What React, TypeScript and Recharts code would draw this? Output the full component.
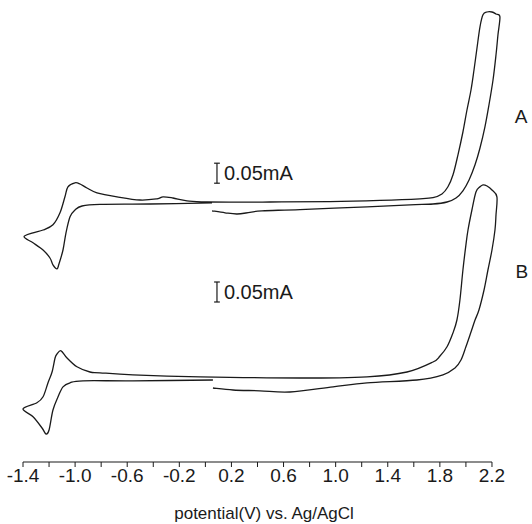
import React from 'react';
import { LineChart, Line, XAxis, YAxis, ReferenceLine, ReferenceDot } from 'recharts';

// Potential (V vs. Ag/AgCl) and current (µA, offset)
const A_POTENTIAL = [0.051,0.151,0.243,0.342,0.435,0.726,1.241,1.571,1.747,1.855,1.924,1.977,2.024,2.070,2.108,2.146,2.177,2.208,2.231,2.246,2.261,2.231,2.200,2.162,2.131,2.108,2.085,2.062,2.039,2.008,1.977,1.939,1.901,1.862,1.816,1.747,1.647,1.340,0.957,0.496,0.012,-0.141,-0.249,-0.325,-0.371,-0.502,-0.678,-0.832,-0.909,-0.962,-1.001,-1.055,-1.078,-1.116,-1.170,-1.246,-1.323,-1.392,-1.323,-1.246,-1.193,-1.170,-1.139,-1.124,-1.093,-1.070,-1.039,-1.001,-0.947,-0.809,-0.425,0.051];
const A_CURRENT = [628,623,620,624,628,631,638,643,645,650,660,678,705,743,785,838,893,955,1018,1068,1113,1120,1125,1125,1118,1088,1035,980,930,880,825,768,718,688,670,661,658,654,651,650,650,653,660,663,658,655,663,673,685,695,698,688,663,623,593,580,573,563,548,530,510,493,483,495,530,573,613,630,640,644,645,648];

const B_POTENTIAL = [0.058,0.212,0.419,0.649,0.980,1.241,1.624,1.824,1.916,1.962,2.000,2.039,2.070,2.100,2.139,2.169,2.200,2.223,2.231,2.238,2.200,2.162,2.131,2.108,2.077,2.046,2.016,2.000,1.977,1.954,1.931,1.901,1.855,1.801,1.747,1.548,1.241,0.726,-0.041,-0.556,-0.809,-0.886,-0.986,-1.062,-1.108,-1.139,-1.154,-1.177,-1.208,-1.246,-1.293,-1.400,-1.323,-1.254,-1.223,-1.200,-1.170,-1.131,-1.093,-1.039,-0.939,-0.556,0.058];
const B_CURRENT = [185,180,178,175,188,198,205,218,235,255,288,325,355,380,430,480,530,580,618,663,680,690,693,688,675,630,580,543,480,405,355,323,288,265,250,225,213,210,213,218,223,225,238,260,278,270,260,225,198,163,148,133,113,85,70,80,130,163,188,198,203,203,205];

const TICKS = [-1.4,-1.2,-1.0,-0.8,-0.6,-0.4,-0.2,0,0.2,0.4,0.6,0.8,1.0,1.2,1.4,1.6,1.8,2.0,2.2];
const TICK_LABELS = ['-1.4','','-1.0','','-0.6','','-0.2','','0.2','','0.6','','1.0','','1.4','','1.8','','2.2'];

const SCALE_BAR_UA = 50; // 0.05 mA
const SCALE_BAR_X = 0.089;
const SCALE_BAR_A_BASE = 697;
const SCALE_BAR_B_BASE = 400;

const zip = (v: number[], i: number[]) => v.map((x, k) => ({ v: x, i: i[k] }));
const dataA = zip(A_POTENTIAL, A_CURRENT);
const dataB = zip(B_POTENTIAL, B_CURRENT);

const INK = '#1a1a1a';
const CAP = 0.022;

// Catmull-Rom style smooth curve through all points (works for loops)
function smoothCurve(context: any) {
  let pts: number[][] = [];
  return {
    areaStart() {},
    areaEnd() {},
    lineStart() { pts = []; },
    point(x: number, y: number) { pts.push([x, y]); },
    lineEnd() {
      if (!pts.length) return;
      context.moveTo(pts[0][0], pts[0][1]);
      const t = 1 / 6;
      for (let k = 0; k < pts.length - 1; k++) {
        const p0 = pts[k - 1] || pts[k];
        const p1 = pts[k];
        const p2 = pts[k + 1];
        const p3 = pts[k + 2] || p2;
        context.bezierCurveTo(
          p1[0] + (p2[0] - p0[0]) * t, p1[1] + (p2[1] - p0[1]) * t,
          p2[0] - (p3[0] - p1[0]) * t, p2[1] - (p3[1] - p1[1]) * t,
          p2[0], p2[1]
        );
      }
    },
  };
}

function scaleBar(base: number, key: string) {
  const top = base + SCALE_BAR_UA;
  return [
    <ReferenceLine key={key + 'v'} segment={[{ x: SCALE_BAR_X, y: base }, { x: SCALE_BAR_X, y: top }]} stroke={INK} strokeWidth={1.2} />,
    <ReferenceLine key={key + 't'} segment={[{ x: SCALE_BAR_X - CAP, y: top }, { x: SCALE_BAR_X + CAP, y: top }]} stroke={INK} strokeWidth={1.2} />,
    <ReferenceLine key={key + 'b'} segment={[{ x: SCALE_BAR_X - CAP, y: base }, { x: SCALE_BAR_X + CAP, y: base }]} stroke={INK} strokeWidth={1.2} />,
    <ReferenceDot key={key + 'l'} x={SCALE_BAR_X + 0.03} y={base + SCALE_BAR_UA / 2} r={0} ifOverflow="visible"
      label={{ value: '0.05mA', position: 'right', offset: 3, fontSize: 20, fill: INK }} />,
  ];
}

export default function App() {
  return (
    <div style={{ position: 'absolute', left: 0, top: 0, width: 532, height: 524, background: '#fff', fontFamily: '"Liberation Sans", Arial, sans-serif' }}>
      <LineChart width={532} height={524} margin={{ top: 2, right: 27, bottom: 0, left: 23 }}>
        <XAxis dataKey="v" type="number" domain={[-1.4, 2.3]} ticks={TICKS} interval={0}
          tickFormatter={(_v: number, idx: number) => TICK_LABELS[idx]}
          axisLine={false} tickLine={{ stroke: INK }} tickSize={5} tickMargin={2}
          tick={{ fontSize: 19, fill: INK }} height={62}
          label={{ value: 'potential(V) vs. Ag/AgCl', position: 'insideBottom', offset: 5, fontSize: 17, fill: INK }} />
        <YAxis type="number" domain={[0, 1150]} hide />
        <ReferenceLine segment={[{ x: -1.4, y: 0 }, { x: 2.2, y: 0 }]} stroke={INK} strokeWidth={1.2} />
        <Line data={dataA} dataKey="i" type={smoothCurve as any} dot={false} stroke={INK} strokeWidth={1.3} isAnimationActive={false} />
        <Line data={dataB} dataKey="i" type={smoothCurve as any} dot={false} stroke={INK} strokeWidth={1.3} isAnimationActive={false} />
        {scaleBar(SCALE_BAR_A_BASE, 'a')}
        {scaleBar(SCALE_BAR_B_BASE, 'b')}
        <ReferenceDot x={2.423} y={865} r={0} ifOverflow="visible" label={{ value: 'A', position: 'center', fontSize: 19, fill: INK }} />
        <ReferenceDot x={2.43} y={477} r={0} ifOverflow="visible" label={{ value: 'B', position: 'center', fontSize: 19, fill: INK }} />
      </LineChart>
    </div>
  );
}
